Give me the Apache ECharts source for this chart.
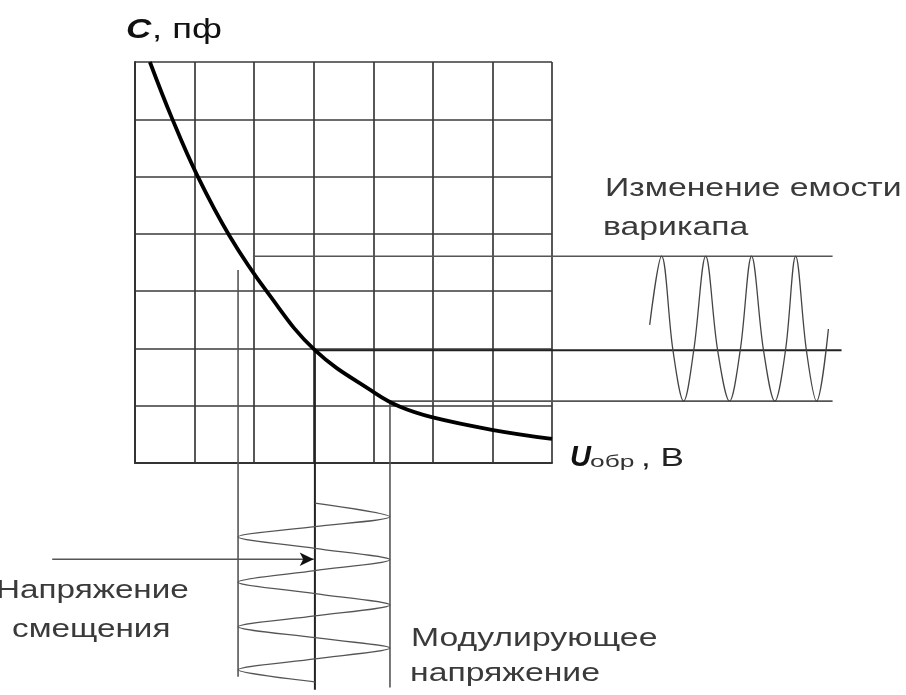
<!DOCTYPE html>
<html>
<head>
<meta charset="utf-8">
<script src="https://cdn.jsdelivr.net/npm/echarts@6/dist/echarts.min.js"></script>
<style>
  html, body { margin: 0; padding: 0; background: #fff; }
  #main { width: 906px; height: 695px; }
</style>
</head>
<body>
<div id="main"></div>
<script>
// вольт-фарадная характеристика варикапа (в клетках сетки)
var curveU = [0.25, 0.62, 1.04, 1.59, 2.23, 3.02, 4.03, 4.45, 4.98, 5.99, 7.0];
var curveC = [7.0, 6.02, 5.03, 3.96, 2.97, 1.97, 1.22, 0.98, 0.80, 0.58, 0.42];

// уровни ёмкости, вынесенные вправо
var levelC = [3.61, 1.97, 1.08];
var levelStartU = [1.98, 3.02, 4.28];
var levelEndU = [11.71, 11.86, 11.71];

// вертикали напряжения вниз
var dropU = [1.73, 3.02, 4.28];
var dropTopC = [3.37, 1.97, 1.08];
var dropBottomC = [-3.73, -3.96, -3.92];

// изменение ёмкости (справа)
var waveU = [8.64, 8.84, 9.03, 9.21, 9.38, 9.58, 9.78, 9.98, 10.16, 10.35, 10.55, 10.74, 10.92, 11.09, 11.27, 11.44, 11.64];
var waveC = [2.41, 3.61, 1.97, 1.08, 1.97, 3.61, 1.97, 1.08, 1.97, 3.61, 1.97, 1.08, 1.97, 3.61, 1.97, 1.08, 2.34];

// модулирующее напряжение (снизу)
var modU = [3.02, 4.28, 3.02, 1.73, 3.02, 4.28, 3.02, 1.73, 3.02, 4.28, 3.02, 1.73, 3.02, 4.28, 3.02, 1.73, 3.02];
var modC = [-0.70, -0.94, -1.11, -1.29, -1.49, -1.69, -1.88, -2.08, -2.28, -2.48, -2.67, -2.86, -3.05, -3.23, -3.42, -3.61, -3.82];

// напряжение смещения (стрелка)
var biasU = [-1.39, 3.0];
var biasC = [-1.68, -1.68];

function zip(a, b) {
  var out = [];
  for (var i = 0; i < a.length; i++) out.push([a[i], b[i]]);
  return out;
}

// второй (невидимый) грид на весь холст с тем же масштабом, что и сетка
var W = 906, H = 695;
var gLeft = 135, gTop = 62, gWidth = 417, gHeight = 401;
var pxU = gWidth / 7, pxC = gHeight / 7;
var fullMinU = -gLeft / pxU;
var fullMaxU = (W - gLeft) / pxU;
var fullMaxC = 7 + gTop / pxC;
var fullMinC = -(H - gTop - gHeight) / pxC;

var myChart = echarts.init(document.getElementById("main"));

var series = [];

function overlay(s) {
  s.type = "line";
  s.xAxisIndex = 1;
  s.yAxisIndex = 1;
  s.silent = true;
  if (!s.symbol) s.symbol = "none";
  return s;
}

for (var i = 0; i < levelC.length; i++) {
  var col = i === 1 ? "#222" : "#555";
  var lw = i === 1 ? 2 : 1.6;
  series.push(overlay({
    lineStyle: { color: col, width: lw },
    data: [[levelStartU[i], levelC[i]], [levelEndU[i], levelC[i]]],
  }));
  series.push(overlay({
    lineStyle: { color: col, width: lw },
    data: [[dropU[i], dropTopC[i]], [dropU[i], dropBottomC[i]]],
  }));
}

series.push(overlay({
  smooth: 0.35,
  lineStyle: { color: "#444", width: 1.3 },
  data: zip(waveU, waveC),
}));

series.push(overlay({
  smooth: 0.3,
  lineStyle: { color: "#555", width: 1.3 },
  data: zip(modU, modC),
}));

series.push(overlay({
  symbol: function (value, params) {
    return params.dataIndex === 1 ? "arrow" : "none";
  },
  symbolSize: [10, 14],
  symbolRotate: -90,
  showSymbol: true,
  itemStyle: { color: "#111" },
  lineStyle: { color: "#555", width: 1.6 },
  data: zip(biasU, biasC),
}));

series.push({
  type: "line",
  silent: true,
  symbol: "none",
  smooth: 0.4,
  lineStyle: { color: "#000", width: 3.8 },
  data: zip(curveU, curveC),
  z: 5,
});

var textColor = "#3a3a3a";
var font = "Liberation Sans";
var option = {
  backgroundColor: "#fff",
  animation: false,
  grid: [
    { left: gLeft, top: gTop, width: gWidth, height: gHeight },
    { left: 0, top: 0, width: W, height: H },
  ],
  xAxis: [
    {
      type: "value",
      min: 0,
      max: 7,
      interval: 1,
      axisLine: { show: true, lineStyle: { color: "#333", width: 2 } },
      axisTick: { show: false },
      axisLabel: { show: false },
      splitLine: { show: true, lineStyle: { color: "#3a3a3a", width: 1.7 } },
    },
    { type: "value", gridIndex: 1, min: fullMinU, max: fullMaxU, show: false, splitLine: { show: false } },
  ],
  yAxis: [
    {
      type: "value",
      min: 0,
      max: 7,
      interval: 1,
      axisLine: { show: true, lineStyle: { color: "#333", width: 2 } },
      axisTick: { show: false },
      axisLabel: { show: false },
      splitLine: { show: true, lineStyle: { color: "#3a3a3a", width: 1.7 } },
    },
    { type: "value", gridIndex: 1, min: fullMinC, max: fullMaxC, show: false, splitLine: { show: false } },
  ],
  graphic: [
    {
      type: "text", x: 126, y: 16, scaleX: 1.25,
      style: { text: "C", font: "italic bold 28px " + font, fill: "#111" },
    },
    {
      type: "text", x: 152, y: 16, scaleX: 1.3,
      style: { text: ", пф", font: "28px " + font, fill: "#111" },
    },
    {
      type: "text", x: 570, y: 443, scaleX: 1.0,
      style: { text: "U", font: "italic bold 29px " + font, fill: "#111" },
    },
    {
      type: "text", x: 590, y: 454, scaleX: 1.55,
      style: { text: "обр", font: "17px " + font, fill: "#333" },
    },
    {
      type: "text", x: 641, y: 446, scaleX: 1.35,
      style: { text: ", В", font: "26px " + font, fill: "#222" },
    },
    {
      type: "text", x: 605, y: 177, scaleX: 1.35,
      style: { text: "Изменение емости", font: "25px " + font, fill: textColor },
    },
    {
      type: "text", x: 603, y: 216, scaleX: 1.35,
      style: { text: "варикапа", font: "25px " + font, fill: textColor },
    },
    {
      type: "text", x: -4, y: 579, scaleX: 1.33,
      style: { text: "Напряжение", font: "25px " + font, fill: textColor },
    },
    {
      type: "text", x: 12, y: 618, scaleX: 1.33,
      style: { text: "смещения", font: "25px " + font, fill: textColor },
    },
    {
      type: "text", x: 411, y: 627, scaleX: 1.35,
      style: { text: "Модулирующее", font: "25px " + font, fill: textColor },
    },
    {
      type: "text", x: 410, y: 662, scaleX: 1.35,
      style: { text: "напряжение", font: "25px " + font, fill: textColor },
    },
  ],
  series: series,
};

myChart.setOption(option);
</script>
</body>
</html>
